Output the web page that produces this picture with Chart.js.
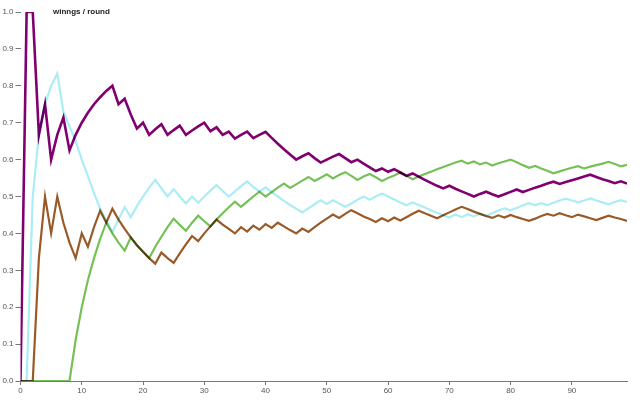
<!DOCTYPE html>
<html>
<head>
<meta charset="utf-8">
<script src="https://cdn.jsdelivr.net/npm/chart.js@4"></script>
<style>
  html, body { margin: 0; padding: 0; background: #fff; }
  #wrap { width: 640px; height: 400px; position: relative; }
</style>
</head>
<body>
<div id="wrap"><canvas id="chart"></canvas></div>
<script>
/* winnings per round, four players */

var rounds = [];
for (var r = 0; r < 100; r++) rounds.push(r);

var purple = [0, 1, 1, 0.667, 0.75, 0.6, 0.667, 0.714, 0.625, 0.667,
  0.7, 0.727, 0.75, 0.769, 0.786, 0.8, 0.75, 0.765, 0.722, 0.684,
  0.7, 0.667, 0.682, 0.696, 0.667, 0.68, 0.692, 0.667, 0.679, 0.69,
  0.7, 0.677, 0.6875, 0.667, 0.676, 0.657, 0.667, 0.676, 0.658, 0.667,
  0.675, 0.659, 0.643, 0.628, 0.614, 0.6, 0.609, 0.617, 0.604, 0.592,
  0.6, 0.608, 0.615, 0.604, 0.593, 0.6, 0.589, 0.579, 0.569, 0.576,
  0.567, 0.574, 0.565, 0.556, 0.5625, 0.554, 0.545, 0.537, 0.529, 0.522,
  0.529, 0.521, 0.514, 0.507, 0.5, 0.507, 0.513, 0.506, 0.5, 0.506,
  0.5125, 0.519, 0.512, 0.518, 0.524, 0.529, 0.535, 0.54, 0.534, 0.539,
  0.544, 0.549, 0.554, 0.559, 0.553, 0.547, 0.542, 0.536, 0.541, 0.535];

var cyan = [0, 0, 0.5, 0.667, 0.75, 0.8, 0.833, 0.73, 0.69, 0.65,
  0.6, 0.555, 0.51, 0.467, 0.435, 0.404, 0.4375, 0.471, 0.444, 0.474,
  0.5, 0.524, 0.545, 0.522, 0.5, 0.52, 0.5, 0.481, 0.5, 0.483,
  0.5, 0.516, 0.531, 0.515, 0.5, 0.514, 0.528, 0.541, 0.526, 0.513,
  0.525, 0.512, 0.5, 0.488, 0.477, 0.467, 0.457, 0.468, 0.479, 0.49,
  0.48, 0.49, 0.481, 0.472, 0.481, 0.491, 0.5, 0.491, 0.5, 0.508,
  0.5, 0.492, 0.484, 0.476, 0.484, 0.477, 0.47, 0.463, 0.456, 0.449,
  0.443, 0.451, 0.444, 0.452, 0.446, 0.453, 0.447, 0.4545, 0.462, 0.468,
  0.4625, 0.469, 0.476, 0.482, 0.476, 0.482, 0.477, 0.483, 0.489, 0.494,
  0.489, 0.484, 0.489, 0.495, 0.489, 0.484, 0.479, 0.485, 0.49, 0.485];

var brown = [0, 0, 0, 0.333, 0.5, 0.4, 0.5, 0.429, 0.375, 0.333,
  0.4, 0.364, 0.417, 0.4615, 0.429, 0.467, 0.4375, 0.412, 0.389, 0.368,
  0.35, 0.333, 0.318, 0.348, 0.333, 0.32, 0.346, 0.37, 0.393, 0.379,
  0.4, 0.419, 0.4375, 0.424, 0.412, 0.4, 0.417, 0.405, 0.421, 0.41,
  0.425, 0.415, 0.429, 0.419, 0.409, 0.4, 0.413, 0.404, 0.417, 0.429,
  0.44, 0.451, 0.442, 0.453, 0.463, 0.4545, 0.446, 0.439, 0.431, 0.441,
  0.433, 0.443, 0.435, 0.444, 0.453, 0.4615, 0.4545, 0.448, 0.441, 0.449,
  0.457, 0.465, 0.472, 0.466, 0.459, 0.453, 0.447, 0.442, 0.449, 0.443,
  0.45, 0.444, 0.439, 0.434, 0.44, 0.447, 0.453, 0.448, 0.4545, 0.449,
  0.444, 0.451, 0.446, 0.441, 0.436, 0.442, 0.448, 0.443, 0.439, 0.434];

var green = [0, 0, 0, 0, 0, 0, 0, 0, 0, 0.111,
  0.2, 0.273, 0.333, 0.385, 0.429, 0.4, 0.375, 0.353, 0.389, 0.368,
  0.35, 0.333, 0.364, 0.391, 0.417, 0.44, 0.423, 0.407, 0.429, 0.448,
  0.433, 0.419, 0.4375, 0.4545, 0.471, 0.486, 0.472, 0.486, 0.5, 0.513,
  0.5, 0.512, 0.524, 0.535, 0.523, 0.533, 0.543, 0.553, 0.542, 0.551,
  0.56, 0.549, 0.558, 0.566, 0.556, 0.545, 0.554, 0.561, 0.552, 0.542,
  0.55, 0.557, 0.565, 0.556, 0.547, 0.554, 0.561, 0.567, 0.574, 0.58,
  0.586, 0.592, 0.597, 0.589, 0.595, 0.587, 0.592, 0.584, 0.59, 0.595,
  0.6, 0.593, 0.585, 0.578, 0.583, 0.576, 0.57, 0.563, 0.568, 0.573,
  0.578, 0.582, 0.576, 0.581, 0.585, 0.589, 0.594, 0.588, 0.582, 0.586];

var yTicks = [0, 0.1, 0.2, 0.3, 0.4, 0.5, 0.6, 0.7, 0.8, 0.9, 1.0];
var xTicks = [0, 10, 20, 30, 40, 50, 60, 70, 80, 90];
var titleText = 'winngs / round';

function points(values) {
  return values.map(function (v, i) { return { x: rounds[i], y: v }; });
}

// overlapping lines darken each other in the original
var multiplyPlugin = {
  id: 'multiply',
  beforeDatasetsDraw: function (chart) {
    chart.ctx.save();
    chart.ctx.globalCompositeOperation = 'multiply';
  },
  afterDatasetsDraw: function (chart) {
    chart.ctx.restore();
  }
};

var titlePlugin = {
  id: 'cornerTitle',
  afterDraw: function (chart) {
    var ctx = chart.ctx;
    ctx.save();
    ctx.font = 'bold 8px "Liberation Sans", Arial, sans-serif';
    ctx.fillStyle = '#222';
    ctx.textAlign = 'left';
    ctx.textBaseline = 'middle';
    ctx.fillText(titleText, 53, chart.scales.y.getPixelForValue(1.0));
    ctx.restore();
  }
};

var tickFont = { family: '"Liberation Sans", Arial, sans-serif', size: 8 };

new Chart(document.getElementById('chart').getContext('2d'), {
  type: 'line',
  data: {
    datasets: [
      { data: points(purple), borderColor: '#800070', borderWidth: 2.6 },
      { data: points(cyan), borderColor: '#aaedf4', borderWidth: 2.2 },
      { data: points(brown), borderColor: '#995a28', borderWidth: 2.2 },
      { data: points(green), borderColor: '#75c157', borderWidth: 2.2 }
    ]
  },
  options: {
    responsive: true,
    maintainAspectRatio: false,
    animation: false,
    elements: { point: { radius: 0 }, line: { tension: 0, fill: false } },
    layout: { padding: { top: 12, right: 13, left: 0, bottom: 0 } },
    plugins: { legend: { display: false }, tooltip: { enabled: false } },
    scales: {
      x: {
        type: 'linear',
        min: 0,
        max: 99,
        afterFit: function (s) { s.height = 19; },
        afterBuildTicks: function (s) { s.ticks = xTicks.map(function (v) { return { value: v }; }); },
        border: { display: true, color: '#777', width: 1 },
        grid: { drawOnChartArea: false, drawTicks: true, tickLength: 4, color: '#777' },
        ticks: { font: tickFont, color: '#555', padding: 1, maxRotation: 0, autoSkip: false }
      },
      y: {
        min: 0,
        max: 1,
        afterFit: function (s) { s.width = 20.5; },
        afterBuildTicks: function (s) { s.ticks = yTicks.map(function (v) { return { value: v }; }); },
        border: { display: false },
        grid: { drawOnChartArea: false, drawTicks: true, tickLength: 5, color: '#777' },
        ticks: {
          font: tickFont,
          color: '#555',
          padding: 2,
          callback: function (v) { return Number(v).toFixed(1); }
        }
      }
    }
  },
  plugins: [multiplyPlugin, titlePlugin]
});
</script>
</body>
</html>
